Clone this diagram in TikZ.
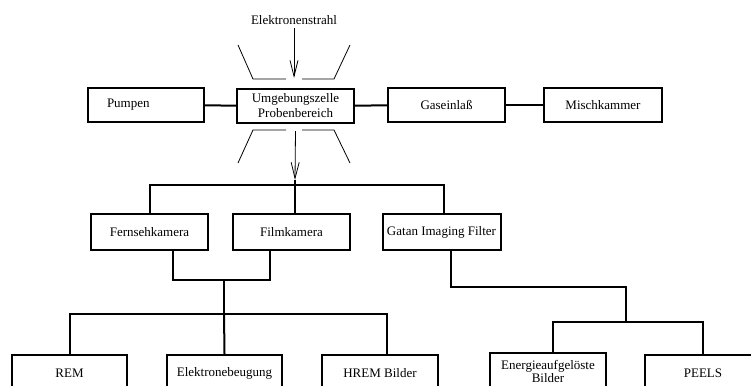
\documentclass[tikz,border=0pt]{standalone}
\usepackage{fontspec}
\setmainfont{Liberation Serif}
\usetikzlibrary{arrows.meta}

\begin{document}
\begin{tikzpicture}[x=1pt,y=-1pt,
  font=\fontsize{13}{15}\selectfont,
  box/.style={draw,line width=2pt,minimum width=117pt,minimum height=34pt,
    inner sep=1pt,align=center},
  tallbox/.style={box,minimum height=36pt},
  link/.style={line width=2pt},
  funnel/.style={line width=0.8pt},
  beam/.style={line width=0.8pt,-{Straight Barb[length=16pt,width=8pt,line width=0.8pt]}}]
  %frame
  \clip (0,0) rectangle (751,385);
  %top row
  \node (elstr) at (294,20) {Elektronenstrahl};
  \node[box] (umg) at (295.5,106) {Umgebungszelle\\Probenbereich};
  \node[box,minimum width=116pt] (pumpen) at (146,105) {\makebox[78pt][l]{Pumpen}};
  \node[box] (gas) at (446.5,105) {Gaseinla\ss};
  \node[box,minimum width=118pt] (misch) at (603,105) {Mischkammer};
  \draw[link] (pumpen) -- (umg);
  \draw[link] (umg) -- (gas);
  \draw[link] (gas) -- (misch);
  %beam and cell walls
  \coordinate (beamend) at (294,78);
  \draw[beam] (elstr.south) -- (beamend);
  \draw[funnel] (238,45) -- (253,79) -- (286,79);
  \draw[funnel] (302,79) -- (334,79) -- (350,45);
  \draw[funnel] (238,163) -- (253,130) -- (286,130);
  \draw[funnel] (302,130) -- (334,130) -- (350,163);
  %detectors
  \node[tallbox] (fern) at (149.5,232) {Fernsehkamera};
  \node[tallbox] (film) at (291.5,232) {Filmkamera};
  \node[tallbox,minimum width=118pt] (gatan) at (441.5,232) {Gatan Imaging Filter};
  \coordinate (bus) at (295,185);
  \draw[beam] ([yshift=-7pt]umg.south) -- ([yshift=5pt]bus);
  \draw[link] (bus) -- ++(0,-5);
  \draw[link] (fern.north) |- (bus) -| ([xshift=2.5pt]gatan.north);
  \draw[link] (bus) -- ([xshift=3.5pt]film.north);
  %results
  \node[tallbox,minimum width=115pt] (rem) at (69.5,373) {REM};
  \node[tallbox,minimum width=115pt] (elbeug) at (224.5,373) {Elektronebeugung};
  \node[tallbox,minimum width=116pt] (hrem) at (380,373) {HREM Bilder};
  \node[tallbox,minimum width=116pt,font=\fontsize{13}{13}\selectfont] (energie)
    at (548,371) {Energieaufgel\"oste\\Bilder};
  \node[tallbox,minimum width=116pt] (peels) at (703,373) {PEELS};
  \coordinate (join) at (224,280);
  \coordinate (split) at (224,314);
  \draw[link] ([xshift=23.5pt]fern.south) |- (join) -| ([xshift=-21.5pt]film.south);
  \draw[link] (join) -- (split);
  \draw[link] ([xshift=0.5pt]rem.north) |- (split) -| ([xshift=7pt]hrem.north);
  \draw[link] (split) -- (elbeug.north);
  \coordinate (gbend) at (626,287);
  \coordinate (gsplit) at (626,322);
  \draw[link] ([xshift=9.5pt]gatan.south) |- (gbend) -- (gsplit);
  \draw[link] ([xshift=5pt]energie.north) |- (gsplit) -| (peels.north);
\end{tikzpicture}
\end{document}
